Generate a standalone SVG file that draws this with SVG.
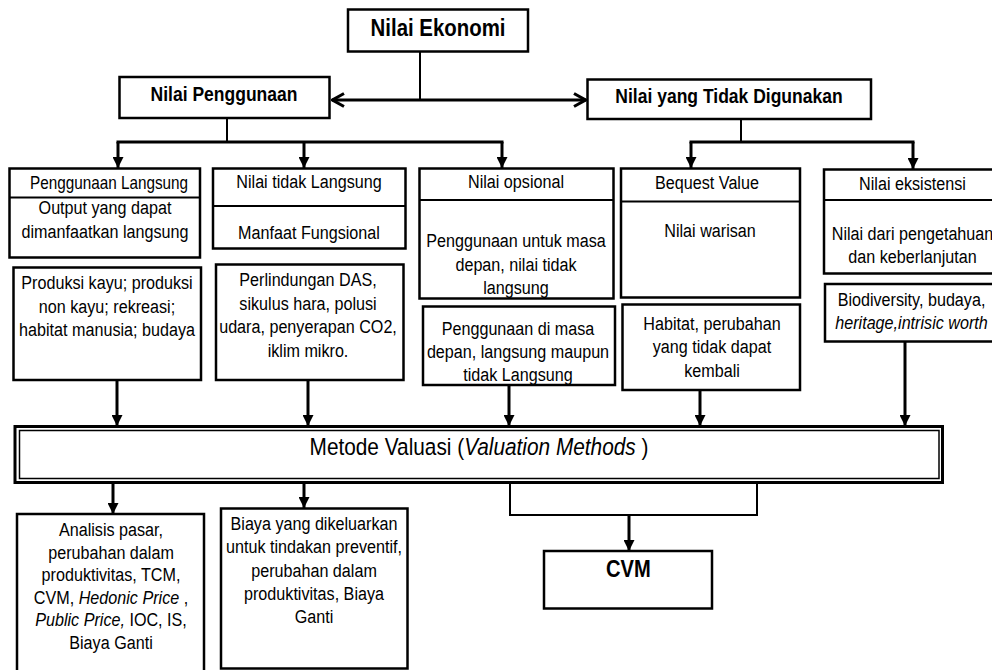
<svg xmlns="http://www.w3.org/2000/svg" width="992" height="670" viewBox="0 0 992 670">
<style>
text{font-family:"Liberation Sans",Arial,sans-serif;fill:#000;text-anchor:middle}
.b{font-weight:bold}
.t{font-size:19px}
.box{fill:#fff;stroke:#000;stroke-width:2.5}
.dv{stroke:#000;stroke-width:2}
.ln{fill:none;stroke:#000;stroke-width:2}
.ar{fill:none;stroke:#000;stroke-width:3}
</style>
<defs>
<marker id="ah" viewBox="0 0 12 12" refX="12" refY="6" markerWidth="12" markerHeight="11" markerUnits="userSpaceOnUse" orient="auto">
<path d="M0,0 L12,6 L0,12 z" fill="#000"/>
</marker>
<marker id="ch" viewBox="0 0 14 16" refX="13" refY="8" markerWidth="14" markerHeight="16" markerUnits="userSpaceOnUse" orient="auto-start-reverse">
<path d="M1,1.5 L12.5,8 L1,14.5" fill="none" stroke="#000" stroke-width="3"/>
</marker>
</defs>
<rect width="992" height="670" fill="#fff"/>

<g id="connectors">
<line class="ln" x1="420" y1="52" x2="420" y2="100"/>
<line class="ar" x1="332" y1="100" x2="586" y2="100" marker-start="url(#ch)" marker-end="url(#ch)"/>
<line class="ln" x1="227" y1="118" x2="227" y2="142"/>
<line class="ar" x1="116.5" y1="142" x2="503.5" y2="142"/>
<line class="ar" x1="118" y1="142" x2="118" y2="168" marker-end="url(#ah)"/>
<line class="ar" x1="304" y1="142" x2="304" y2="168" marker-end="url(#ah)"/>
<line class="ar" x1="502" y1="142" x2="502" y2="168" marker-end="url(#ah)"/>
<line class="ln" x1="741" y1="119" x2="741" y2="142"/>
<line class="ar" x1="689.5" y1="142" x2="914.5" y2="142"/>
<line class="ar" x1="691" y1="142" x2="691" y2="168" marker-end="url(#ah)"/>
<line class="ar" x1="913" y1="142" x2="913" y2="169" marker-end="url(#ah)"/>
<line class="ar" x1="117" y1="380" x2="117" y2="426" marker-end="url(#ah)"/>
<line class="ar" x1="308" y1="380" x2="308" y2="426" marker-end="url(#ah)"/>
<line class="ar" x1="509" y1="385" x2="509" y2="426" marker-end="url(#ah)"/>
<line class="ar" x1="700" y1="390" x2="700" y2="426" marker-end="url(#ah)"/>
<line class="ar" x1="905" y1="342" x2="905" y2="426" marker-end="url(#ah)"/>
<line class="ar" x1="113" y1="483" x2="113" y2="514" marker-end="url(#ah)"/>
<line class="ar" x1="304" y1="483" x2="304" y2="508" marker-end="url(#ah)"/>
<polyline class="ln" points="510,483 510,515 757,515 757,483"/>
<line class="ar" x1="629" y1="515" x2="629" y2="551" marker-end="url(#ah)"/>
</g>

<g id="nilai-ekonomi">
<rect class="box" x="348" y="9.5" width="180" height="42"/>
<text class="b" font-size="24" transform="translate(438 0) scale(0.85 1)" x="0" y="36">Nilai Ekonomi</text>
</g>

<g id="nilai-penggunaan">
<rect class="box" x="119.5" y="77" width="210" height="41"/>
<text class="b" font-size="20.6" transform="translate(224 0) scale(0.85 1)" x="0" y="101">Nilai Penggunaan</text>
</g>

<g id="nilai-tidak-digunakan">
<rect class="box" x="587.5" y="79.5" width="283.5" height="39.5"/>
<text class="b" font-size="20.6" transform="translate(729 0) scale(0.85 1)" x="0" y="103">Nilai yang Tidak Digunakan</text>
</g>

<g id="penggunaan-langsung">
<rect class="box" x="9.5" y="168.5" width="190.5" height="89"/>
<line class="dv" x1="9.5" y1="197.5" x2="200" y2="197.5"/>
<text font-size="18" transform="translate(109 0) scale(0.85 1)" x="0" y="189.5">Penggunaan Langsung</text>
<text class="t" transform="translate(105 0) scale(0.85 1)"><tspan x="0" y="214">Output yang dapat</tspan><tspan x="0" y="238">dimanfaatkan langsung</tspan></text>
</g>

<g id="produksi-kayu">
<rect class="box" x="13.5" y="267.5" width="187.5" height="112.5"/>
<text class="t" transform="translate(107 0) scale(0.85 1)"><tspan x="0" y="289.5">Produksi kayu; produksi</tspan><tspan x="0" y="313">non kayu; rekreasi;</tspan><tspan x="0" y="336.5">habitat manusia; budaya</tspan></text>
</g>

<g id="nilai-tidak-langsung">
<rect class="box" x="213" y="168.5" width="192.5" height="80"/>
<line class="dv" x1="213" y1="206" x2="405.5" y2="206"/>
<text class="t" transform="translate(309 0) scale(0.85 1)" x="0" y="188.5">Nilai tidak Langsung</text>
<text class="t" transform="translate(309 0) scale(0.85 1)" x="0" y="239">Manfaat Fungsional</text>
</g>

<g id="perlindungan-das">
<rect class="box" x="216" y="264.5" width="187.5" height="115.5"/>
<text class="t" transform="translate(308 0) scale(0.85 1)"><tspan x="0" y="286.5">Perlindungan DAS,</tspan><tspan x="0" y="310">sikulus hara, polusi</tspan><tspan x="0" y="333.5">udara, penyerapan CO2,</tspan><tspan x="0" y="357">iklim mikro.</tspan></text>
</g>

<g id="nilai-opsional">
<rect class="box" x="419.5" y="168.5" width="194" height="130"/>
<line class="dv" x1="419.5" y1="200" x2="613.5" y2="200"/>
<text class="t" transform="translate(516 0) scale(0.85 1)" x="0" y="188.5">Nilai opsional</text>
<text class="t" transform="translate(516 0) scale(0.85 1)"><tspan x="0" y="247.5">Penggunaan untuk masa</tspan><tspan x="0" y="271">depan, nilai tidak</tspan><tspan x="0" y="294.5">langsung</tspan></text>
</g>

<g id="penggunaan-masa-depan">
<rect class="box" x="423" y="306.5" width="192" height="78.5"/>
<text class="t" transform="translate(518 0) scale(0.85 1)"><tspan x="0" y="335">Penggunaan di masa</tspan><tspan x="0" y="358.5">depan, langsung maupun</tspan><tspan x="0" y="381">tidak Langsung</tspan></text>
</g>

<g id="bequest-value">
<rect class="box" x="621" y="168.5" width="179" height="129"/>
<line class="dv" x1="621" y1="201.5" x2="800" y2="201.5"/>
<text class="t" transform="translate(707 0) scale(0.85 1)" x="0" y="189">Bequest Value</text>
<text class="t" transform="translate(710 0) scale(0.85 1)" x="0" y="237">Nilai warisan</text>
</g>

<g id="habitat">
<rect class="box" x="622.5" y="304.5" width="177.5" height="85.5"/>
<text class="t" transform="translate(712 0) scale(0.85 1)"><tspan x="0" y="330">Habitat, perubahan</tspan><tspan x="0" y="353.5">yang tidak dapat</tspan><tspan x="0" y="377">kembali</tspan></text>
</g>

<g id="nilai-eksistensi">
<rect class="box" x="824" y="169.5" width="178" height="104"/>
<line class="dv" x1="824" y1="200" x2="1002" y2="200"/>
<text class="t" transform="translate(912.5 0) scale(0.85 1)" x="0" y="190">Nilai eksistensi</text>
<text class="t" transform="translate(912.5 0) scale(0.85 1)"><tspan x="0" y="240">Nilai dari pengetahuan</tspan><tspan x="0" y="263.5">dan keberlanjutan</tspan></text>
</g>

<g id="biodiversity">
<rect class="box" x="825" y="284" width="177" height="57.5"/>
<text class="t" transform="translate(911.5 0) scale(0.85 1)"><tspan x="0" y="306.5">Biodiversity, budaya,</tspan><tspan x="0" y="329" font-style="italic">heritage,intrisic worth</tspan></text>
</g>

<g id="metode-valuasi">
<rect x="15" y="426.5" width="927.5" height="56" fill="#fff" stroke="#000" stroke-width="3"/>
<rect x="19.5" y="430.5" width="919.5" height="48" fill="none" stroke="#000" stroke-width="1.5"/>
<text font-size="24.5" transform="translate(479 0) scale(0.85 1)" x="0" y="455">Metode Valuasi (<tspan font-style="italic">Valuation Methods</tspan> )</text>
</g>

<g id="analisis-pasar">
<rect class="box" x="17" y="514" width="187" height="162"/>
<text class="t" transform="translate(111 0) scale(0.85 1)"><tspan x="0" y="536">Analisis pasar,</tspan><tspan x="0" y="559">perubahan dalam</tspan><tspan x="0" y="581.5">produktivitas, TCM,</tspan><tspan x="0" y="604">CVM, <tspan font-style="italic">Hedonic Price</tspan> ,</tspan><tspan x="0" y="626.5"><tspan font-style="italic">Public Price,</tspan> IOC, IS,</tspan><tspan x="0" y="649">Biaya Ganti</tspan></text>
</g>

<g id="biaya-preventif">
<rect class="box" x="221" y="508.5" width="186.5" height="160"/>
<text class="t" transform="translate(314 0) scale(0.85 1)"><tspan x="0" y="530">Biaya yang dikeluarkan</tspan><tspan x="0" y="553.3">untuk tindakan preventif,</tspan><tspan x="0" y="576.6">perubahan dalam</tspan><tspan x="0" y="600">produktivitas, Biaya</tspan><tspan x="0" y="623.3">Ganti</tspan></text>
</g>

<g id="cvm">
<rect class="box" x="544" y="551" width="168" height="57.5"/>
<text class="b" font-size="23.7" transform="translate(628.3 0) scale(0.85 1)" x="0" y="577">CVM</text>
</g>
</svg>
